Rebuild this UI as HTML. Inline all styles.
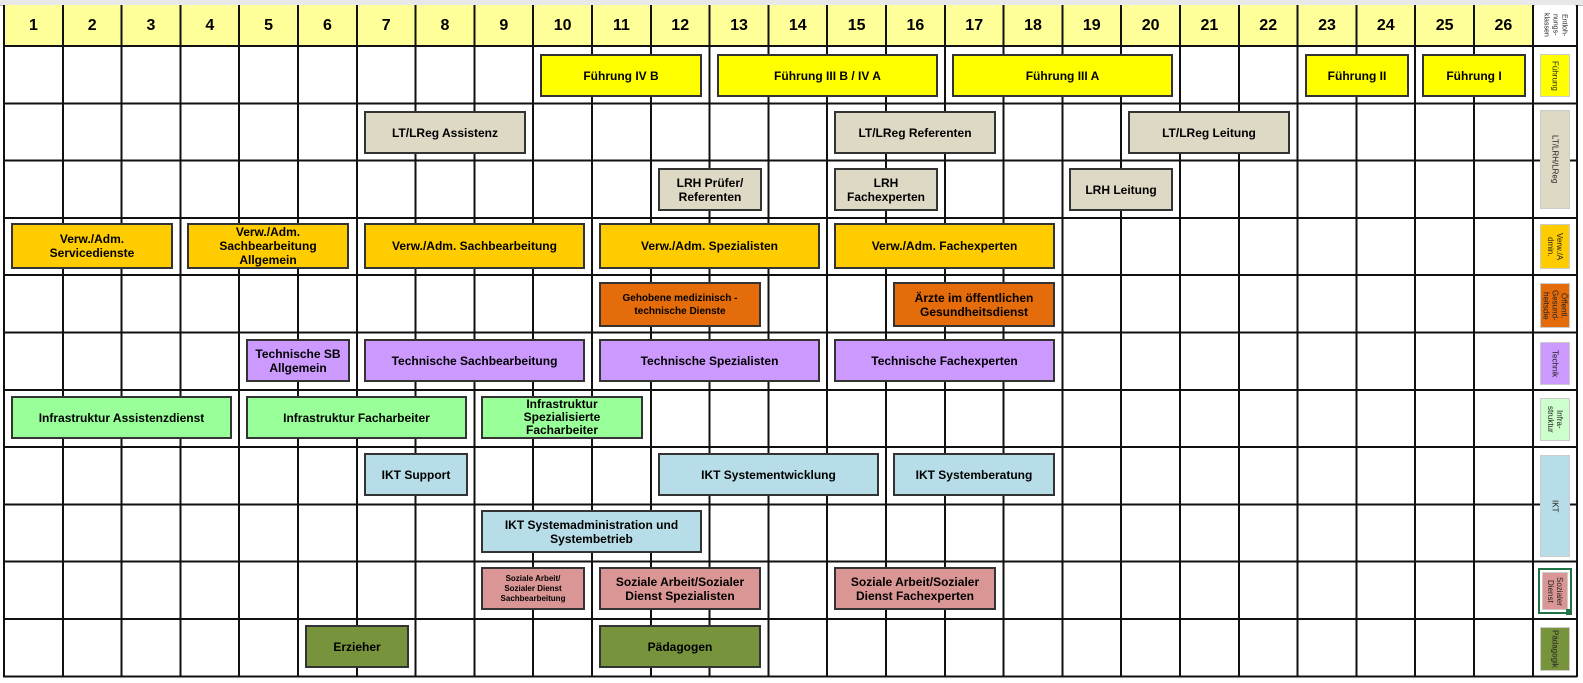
<!DOCTYPE html>
<html><head><meta charset="utf-8"><style>
body{margin:0;width:1583px;height:683px;background:#fff;position:relative;overflow:hidden;font-family:"Liberation Sans",Arial,sans-serif}
.a{position:absolute}
.hdr{position:absolute;top:5px;height:41px;left:4px;width:1529px;background:#ffff99}
.vl{position:absolute;left:3px;top:5px;width:1532px;height:672px;background-image:repeating-linear-gradient(to right,#111 0 2px,transparent 2px 58.8px)}
.hl{position:absolute;left:3px;top:45px;width:1574px;height:633px;background-image:repeating-linear-gradient(to bottom,#111 0 2px,transparent 2px 57.3px)}
.n{position:absolute;top:5px;height:41px;width:58.8px;display:flex;align-items:center;justify-content:center;font-weight:bold;font-size:16px}
.b{position:absolute;box-sizing:border-box;border:2px solid #333;display:flex;align-items:center;justify-content:center;text-align:center;font-weight:bold;font-size:12px;line-height:14px;height:43px;color:#000}
.y{background:#ffff00}.g{background:#ddd9c4}.o{background:#ffcc00}.r{background:#e46c0a}.p{background:#cc99ff}.gr{background:#99ff99}.bl{background:#b7dde8}.s{background:#da9694}.ol{background:#77933c}
.sl{position:absolute;left:1540px;width:30px;box-sizing:border-box;border:1px solid #ccc;writing-mode:vertical-rl;display:flex;align-items:center;justify-content:center;text-align:center;font-size:8px;line-height:9px;color:#222}
</style></head><body>
<div class="a" style="left:0;top:0;width:1583px;height:5px;background:#e8e8e8;border-bottom:1px solid #bbb"></div>
<div class="hdr"></div>
<div class="vl"></div>
<div class="hl"></div>
<div class="a" style="left:1576px;top:5px;width:2px;height:672px;background:#111"></div>
<div class="n" style="left:4px">1</div><div class="n" style="left:62.8px">2</div><div class="n" style="left:121.6px">3</div><div class="n" style="left:180.4px">4</div><div class="n" style="left:239.2px">5</div><div class="n" style="left:298px">6</div><div class="n" style="left:356.8px">7</div><div class="n" style="left:415.6px">8</div><div class="n" style="left:474.4px">9</div><div class="n" style="left:533.2px">10</div><div class="n" style="left:592px">11</div><div class="n" style="left:650.8px">12</div><div class="n" style="left:709.6px">13</div><div class="n" style="left:768.4px">14</div><div class="n" style="left:827.2px">15</div><div class="n" style="left:886px">16</div><div class="n" style="left:944.8px">17</div><div class="n" style="left:1003.6px">18</div><div class="n" style="left:1062.4px">19</div><div class="n" style="left:1121.2px">20</div><div class="n" style="left:1180px">21</div><div class="n" style="left:1238.8px">22</div><div class="n" style="left:1297.6px">23</div><div class="n" style="left:1356.4px">24</div><div class="n" style="left:1415.2px">25</div><div class="n" style="left:1474px">26</div>

<div class="b y" style="left:540px;top:54px;width:162px">Führung IV B</div>
<div class="b y" style="left:717px;top:54px;width:221px">Führung III B / IV A</div>
<div class="b y" style="left:952px;top:54px;width:221px">Führung III A</div>
<div class="b y" style="left:1305px;top:54px;width:104px">Führung II</div>
<div class="b y" style="left:1422px;top:54px;width:104px">Führung I</div>

<div class="b g" style="left:364px;top:111px;width:162px">LT/LReg Assistenz</div>
<div class="b g" style="left:834px;top:111px;width:162px">LT/LReg Referenten</div>
<div class="b g" style="left:1128px;top:111px;width:162px">LT/LReg Leitung</div>

<div class="b g" style="left:658px;top:168px;width:104px">LRH Prüfer/<br>Referenten</div>
<div class="b g" style="left:834px;top:168px;width:104px">LRH<br>Fachexperten</div>
<div class="b g" style="left:1069px;top:168px;width:104px">LRH Leitung</div>

<div class="b o" style="left:11px;top:223px;width:162px;height:46px">Verw./Adm.<br>Servicedienste</div>
<div class="b o" style="left:187px;top:223px;width:162px;height:46px">Verw./Adm.<br>Sachbearbeitung<br>Allgemein</div>
<div class="b o" style="left:364px;top:223px;width:221px;height:46px">Verw./Adm. Sachbearbeitung</div>
<div class="b o" style="left:599px;top:223px;width:221px;height:46px">Verw./Adm. Spezialisten</div>
<div class="b o" style="left:834px;top:223px;width:221px;height:46px">Verw./Adm. Fachexperten</div>

<div class="b r" style="left:599px;top:282px;width:162px;height:45px;font-size:10px;line-height:13px">Gehobene medizinisch -<br>technische Dienste</div>
<div class="b r" style="left:893px;top:282px;width:162px;height:45px">Ärzte im öffentlichen<br>Gesundheitsdienst</div>

<div class="b p" style="left:246px;top:339px;width:104px">Technische SB<br>Allgemein</div>
<div class="b p" style="left:364px;top:339px;width:221px">Technische Sachbearbeitung</div>
<div class="b p" style="left:599px;top:339px;width:221px">Technische Spezialisten</div>
<div class="b p" style="left:834px;top:339px;width:221px">Technische Fachexperten</div>

<div class="b gr" style="left:11px;top:396px;width:221px">Infrastruktur Assistenzdienst</div>
<div class="b gr" style="left:246px;top:396px;width:221px">Infrastruktur Facharbeiter</div>
<div class="b gr" style="left:481px;top:396px;width:162px;line-height:13px">Infrastruktur<br>Spezialisierte<br>Facharbeiter</div>

<div class="b bl" style="left:364px;top:453px;width:104px">IKT Support</div>
<div class="b bl" style="left:658px;top:453px;width:221px">IKT Systementwicklung</div>
<div class="b bl" style="left:893px;top:453px;width:162px">IKT Systemberatung</div>

<div class="b bl" style="left:481px;top:510px;width:221px">IKT Systemadministration und<br>Systembetrieb</div>

<div class="b s" style="left:481px;top:567px;width:104px;font-size:8px;line-height:10px">Soziale Arbeit/<br>Sozialer Dienst<br>Sachbearbeitung</div>
<div class="b s" style="left:599px;top:567px;width:162px">Soziale Arbeit/Sozialer<br>Dienst Spezialisten</div>
<div class="b s" style="left:834px;top:567px;width:162px">Soziale Arbeit/Sozialer<br>Dienst Fachexperten</div>

<div class="b ol" style="left:305px;top:625px;width:104px">Erzieher</div>
<div class="b ol" style="left:599px;top:625px;width:162px">Pädagogen</div>

<div class="a" style="left:1535px;top:5px;width:40px;height:40px;background:#fff"></div>
<div class="sl" style="top:8px;height:34px;border:none;font-size:7px">Entloh-<br>nungs-<br>klassen</div>
<div class="sl y" style="top:54px;height:43px">Führung</div>
<div class="sl g" style="top:110px;height:99px">LT/LRH/LReg</div>
<div class="sl o" style="top:224px;height:45px">Verw./A<br>dmin.</div>
<div class="sl r" style="top:283px;height:45px">Öffentl.<br>Gesund-<br>heitsdie</div>
<div class="sl p" style="top:342px;height:43px">Technik</div>
<div class="sl" style="top:398px;height:43px;background:#ccffcc">Infra-<br>struktur</div>
<div class="sl bl" style="top:455px;height:102px">IKT</div>
<div class="a" style="left:1538px;top:568px;width:34px;height:46px;box-sizing:border-box;border:2px solid #217346"></div>
<div class="sl s" style="top:572px;left:1542px;width:26px;height:38px">Sozialer<br>Dienst</div>
<div class="a" style="left:1566px;top:609px;width:6px;height:6px;background:#217346"></div>
<div class="sl ol" style="top:627px;height:44px">Pädagogik</div>
</body></html>
